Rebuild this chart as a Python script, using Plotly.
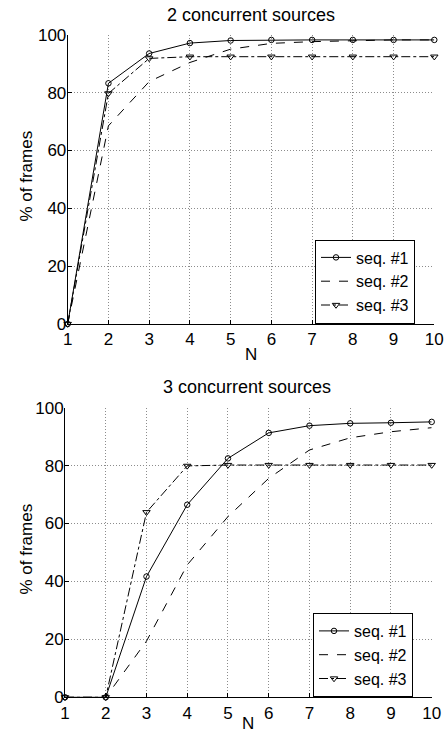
import plotly.graph_objects as go

N = [1, 2, 3, 4, 5, 6, 7, 8, 9, 10]
names = ["seq. #1", "seq. #2", "seq. #3"]

# 2 concurrent sources
top_seq1 = [0, 83.2, 93.5, 97.1, 98.0, 98.2, 98.2, 98.2, 98.2, 98.2]
top_seq2 = [0, 68.5, 83.8, 90.4, 95.0, 97.0, 97.6, 98.0, 98.2, 98.2]
top_seq3 = [0, 79.7, 91.8, 92.4, 92.4, 92.4, 92.4, 92.4, 92.4, 92.4]

# 3 concurrent sources
bot_seq1 = [0, 0, 41.7, 66.5, 82.5, 91.3, 93.8, 94.6, 94.8, 95.1]
bot_seq2 = [0, 0, 19.4, 45.7, 62.4, 75.6, 85.4, 89.6, 91.7, 93.1]
bot_seq3 = [0, 0, 63.9, 79.9, 80.2, 80.2, 80.2, 80.2, 80.2, 80.2]

yticks = [0, 20, 40, 60, 80, 100]

W, H = 448, 735
FONT = "Liberation Sans, Arial, sans-serif"


def px(wx):
    return wx / W


def py(wy):
    return 1 - wy / H


styles = [
    dict(dash="solid", symbol="circle-open", size=5.5),
    dict(dash="dash", symbol=None, size=0),
    dict(dash="dashdot", symbol="triangle-down-open", size=6.5),
]

fig = go.Figure()


def add_series(series, xa, ya, leg):
    for name, ys, st in zip(names, series, styles):
        mode = "lines+markers" if st["symbol"] else "lines"
        marker = dict(symbol=st["symbol"], size=st["size"], color="black",
                      line=dict(width=1, color="black")) if st["symbol"] else None
        fig.add_trace(go.Scatter(
            x=N, y=ys, name=name, mode=mode, xaxis=xa, yaxis=ya, legend=leg,
            line=dict(color="black", width=1, dash=st["dash"]),
            marker=marker, cliponaxis=False))


add_series([top_seq1, top_seq2, top_seq3], "x", "y", "legend")
add_series([bot_seq1, bot_seq2, bot_seq3], "x2", "y2", "legend2")

common = dict(
    showgrid=True, gridcolor="#8c8c8c", griddash="1px,2px", gridwidth=1,
    zeroline=False, showline=True, linecolor="black", linewidth=1,
    ticks="inside", ticklen=4, tickcolor="black", automargin=False,
    tickfont=dict(size=17, color="black", family=FONT),
)
axcommon = dict(range=[1, 10], tickvals=N, ticklabelstandoff=0, **common)
aycommon = dict(range=[0, 100], tickvals=yticks, ticklabelstandoff=-3, **common)

legcommon = dict(xanchor="right", yanchor="middle", bgcolor="white",
                 bordercolor="black", borderwidth=1,
                 font=dict(size=16, family=FONT), itemwidth=30,
                 tracegroupgap=0)

fig.update_layout(
    width=W, height=H, margin=dict(l=0, r=0, t=0, b=0, autoexpand=False),
    paper_bgcolor="white", plot_bgcolor="white",
    font=dict(family=FONT, color="black"),
    xaxis=dict(domain=[px(67.7), px(434.3)], anchor="y", **axcommon),
    yaxis=dict(domain=[py(324), py(34.7)], anchor="x", **aycommon),
    xaxis2=dict(domain=[px(65), px(431.7)], anchor="y2", **axcommon),
    yaxis2=dict(domain=[py(697.3), py(407.7)], anchor="x2", **aycommon),
    legend=dict(x=px(415), y=py(281.5), **legcommon),
    legend2=dict(x=px(413), y=py(655), **legcommon),
)

ann = [
    dict(text="2 concurrent sources", x=251, y=15.5, size=18),
    dict(text="N", x=251, y=354, size=17),
    dict(text="3 concurrent sources", x=247.5, y=387, size=18),
    dict(text="N", x=248, y=723, size=17),
]
for a in ann:
    fig.add_annotation(text=a["text"], x=px(a["x"]), y=py(a["y"]), xref="paper",
                       yref="paper", showarrow=False, xanchor="center",
                       yanchor="middle", font=dict(size=a["size"], family=FONT,
                                                   color="black"))
for yy in [176, 549]:
    fig.add_annotation(text="% of frames", x=px(25.5), y=py(yy), xref="paper",
                       yref="paper", showarrow=False, textangle=-90,
                       xanchor="center", yanchor="middle",
                       font=dict(size=17, family=FONT, color="black"))

fig.write_html(
    "out.html",
    config={"displayModeBar": False},
    post_script="document.body.style.margin='0';document.body.style.overflow='hidden';",
)
